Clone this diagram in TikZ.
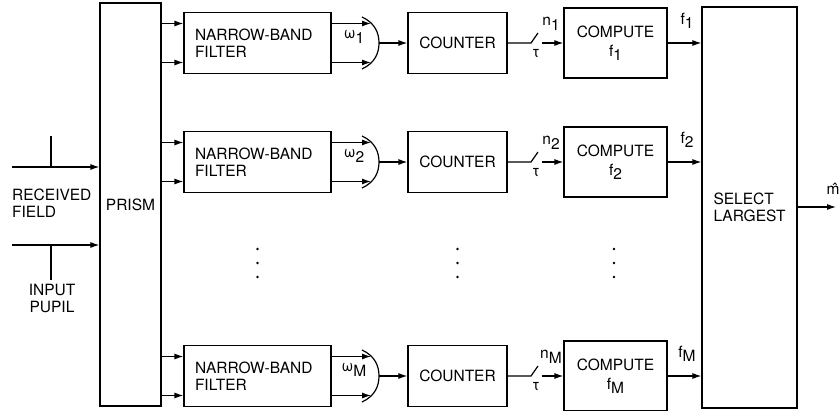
\documentclass[tikz,border=0pt]{standalone}
\usepackage{fontspec}
\setmainfont{TeX Gyre Heros}
\usetikzlibrary{arrows.meta, positioning}

% lowered subscript as in the figure
\newcommand{\lsub}[2]{#1\raisebox{-4.5pt}{#2}}

\begin{document}
\begin{tikzpicture}[
    x=1pt, y=-1pt,
    block/.style={rectangle, draw, line width=1.2pt, inner sep=0pt, font=\fontsize{15.5}{17}\selectfont},
    arrow/.style={-{Latex[length=9pt, width=6pt]}, line width=1.2pt},
    wire/.style={line width=1.2pt},
    lbl/.style={font=\fontsize{15.5}{17}\selectfont, inner sep=0pt},
]
\useasboundingbox (0,0) rectangle (840,411);

% === Prism and selector ===
\node[block, minimum width=61pt, minimum height=403pt] (prism) at (130.5,204.5) {PRISM};
\node[block, minimum width=95pt, minimum height=401pt, align=left] (sel) at (749.5,207.5) {SELECT\\LARGEST};

% === Received field and input pupil ===
\coordinate (in1) at (12,167);
\coordinate (in2) at (12,245);
\coordinate (pup1) at (51,136);
\coordinate (pup2) at (51,280);
\draw[arrow] (in1) -- (in1 -| prism.west);
\draw[arrow] (in2) -- (in2 -| prism.west);
\draw[wire] (pup1) -- (pup1 |- in1);
\draw[wire] (pup2) -- (pup2 |- in2);
\node[lbl, align=left, anchor=west] (field) at (12,203) {RECEIVED\\FIELD};
\node[lbl, align=center] (pupil) at (52,298) {INPUT\\PUPIL};

% === Channels ===
\foreach \y/\k in {43/1, 162/2, 376/M}{
    \node[block, minimum width=147pt, minimum height=61pt, text width=125pt, align=left] (filt\k) at (257.5,\y) {NARROW-BAND\\FILTER};
    \node[block, minimum width=99pt, minimum height=61pt] (cnt\k) at (457.5,\y) {COUNTER};
    \node[block, minimum width=103pt, minimum height=70pt, align=center] (comp\k) at (615.5,\y) {COMPUTE\\[2pt]\lsub{f}{\k}};

    % mixer
    \coordinate (mix\k) at (379,\y);
    \coordinate (ma\k) at (371,\y-19.5);
    \coordinate (mb\k) at (371,\y+19.5);
    \draw[wire] (362,\y-26) .. controls (375,\y-20) and (379,\y-10) .. (mix\k)
        .. controls (379,\y+10) and (375,\y+20) .. (362,\y+26);
    \node[lbl] (om\k) at (354,\y-6) {\lsub{ω}{\k}};

    \draw[arrow] (ma\k -| prism.east) -- (ma\k -| filt\k.west);
    \draw[arrow] (mb\k -| prism.east) -- (mb\k -| filt\k.west);
    \draw[arrow] (ma\k -| filt\k.east) -- (ma\k);
    \draw[arrow] (mb\k -| filt\k.east) -- (mb\k);
    \draw[arrow] (mix\k) -- (cnt\k.west);

    % sampling switch
    \coordinate (sw\k) at (531,\y);
    \coordinate (swt\k) at (538,\y-10);
    \coordinate (swo\k) at (542,\y);
    \draw[wire] (cnt\k.east) -- (sw\k) -- (swt\k);
    \draw[arrow] (swo\k) -- (comp\k.west);
    \node[lbl] (n\k) at (551,\y-19) {\lsub{n}{\k}};
    \node[lbl] (tau\k) at (536,\y+11) {τ};

    \draw[arrow] (comp\k.east) -- (comp\k.east -| sel.west);
    \node[lbl] (f\k) at (687,\y-22) {\lsub{f}{\k}};
}

% === Dots ===
\foreach \x in {257.5, 457.5, 614}
    \foreach \d in {0, 14, 28}
        \fill (\x,249+\d) circle (1.4pt);

% === Output ===
\coordinate (mhat) at (836,207);
\draw[arrow] (sel.east |- mhat) -- (mhat);
\node[lbl] (est) at (833,189) {\^{m}};

\end{tikzpicture}
\end{document}
